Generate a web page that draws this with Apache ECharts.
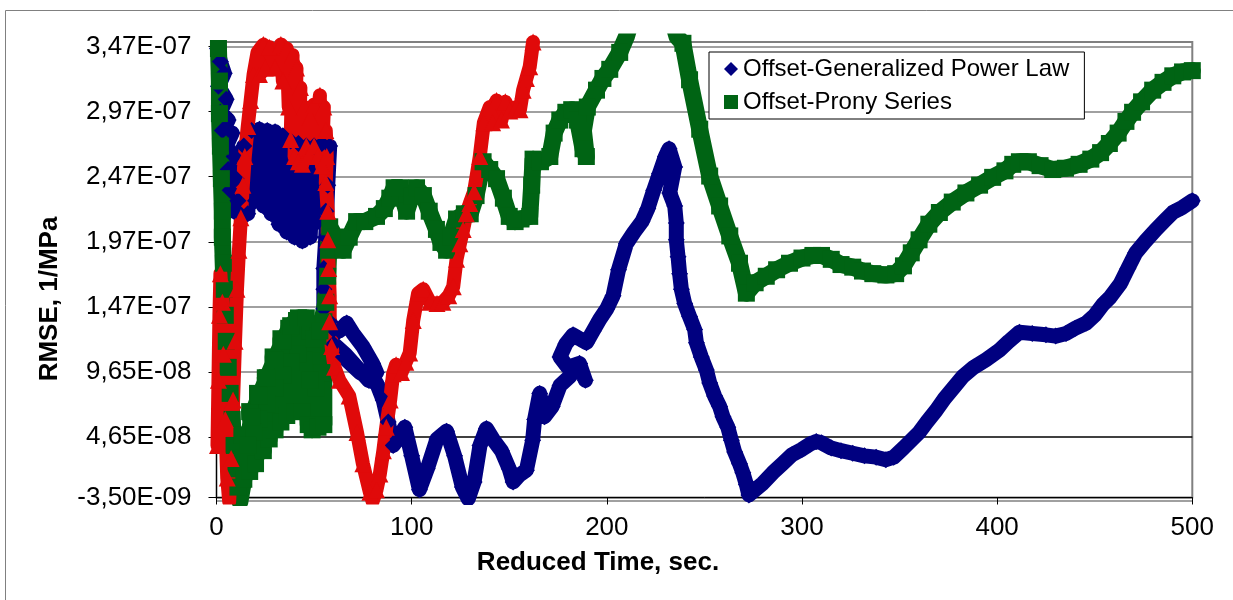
<!DOCTYPE html>
<html>
<head>
<meta charset="utf-8">
<script src="https://cdn.jsdelivr.net/npm/echarts@6/dist/echarts.min.js"></script>
<style>
  html, body { margin: 0; padding: 0; background: #ffffff; }
  #chart { width: 1233px; height: 600px; }
</style>
</head>
<body>
<div id="chart"></div>
<script>
// ---- DATA (y values in units of 1e-9 1/MPa) ----
const NANO = 1e-9;
const xTickValues = [0, 100, 200, 300, 400, 500];
const yTickValues = [0, 4.65e-8, 9.65e-8, 1.465e-7, 1.965e-7, 2.465e-7, 2.965e-7, 3.465e-7];
const yTickLabels = ['-3,50E-09', '4,65E-08', '9,65E-08', '1,47E-07', '1,97E-07', '2,47E-07', '2,97E-07', '3,47E-07'];
const xTitle = 'Reduced Time, sec.';
const yTitle = 'RMSE, 1/MPa';
const seriesNames = ['Offset-Generalized Power Law', 'Offset-Prony Series', 'Series3'];

const gplNano = [
  [0.5,345],[2,335],[4,326],[1,316],[5,306],[2,296],[6,290],[3,282],[8,280],[5,270],[9,262],[6,252],[10,245],[7,236],[11,228],[9,220],[12,218],
  [14,270],[16,218],[18,282],[20,228],[22,283],[24,224],[26,282],[28,218],[30,281],[32,210],[34,278],[36,204],[38,274],[40,200],[42,272],[44,197],[46,270],[48,200],[50,270],[52,212],[54,272],[56,220],[58,270],[57,240],
  [56,200],[55,176],[55,160],[55,145],[58,135],[60,129],[63,128],[66.7,134],[70,126],[75,116],[80,103],[82,96],
  [78,92],[73.5,96],[65,108],[60,118],[66,110],[72,100],[78,90],[82,88],[85.4,75],[88,58],[90.5,40],[93,45],[96.5,54],[100,32],[104,6],[108,22],[113,45],[117.9,51],[122,32],[126,8],[129,-1],[132,12],[135,40],[138.3,53],[142,44],[146,36],[150,22],[152,12],[155,17],[158.8,21],[162,44],[163,60],[165.6,80],[168,62],[172,70],[176,86],[181,93],[186,103],[189,90],[186,103],[180,100],[176,108],[179,118],[182.7,125],[186,122],[189.6,119],[193,128],[196.4,137],[200,145],[203.2,155],[206,175],[210,195],[214,204],[218,212],[221,222],[224,236],[227,249],[230,262],[231.9,268],
  [234.8,254],[232.2,234],[234.8,224],[235.6,211],[235.6,198],[236.5,185],[237.3,172],[238.2,160],[239.9,149],[242.4,139],[245,129],[245.9,119],[248.4,108],[251,98],[252.7,88],[255.2,78],[257.8,70],[259.5,62],[262,54],[263.8,44],[265.5,35],[268,26],[269.7,19],[271.5,10],[272.8,2],
  [276,6],[280,11],[285,19],[290,26],[295,33],[300,37],[304,41],[307.3,43],[310,42],[315,38],[320,36],[326,34],[332,32],[338,31],[343,29],[347,31],[352,38],[356,44],[360,50],[364,58],[368.8,67],[373,76],[378,85],[382.4,93],[388,100],[394.4,106],[401,113],[406,120],[411.4,127],[418,126],[425,125],[430,124],[435.3,126],[440,130],[445.6,134],[450,140],[454,148],[458,154],[463,164],[467,176],[471,188],[476,197],[481.4,206],[486,213],[490,219],[495,223],[500,228]
];

const pronyNano = [
  [1,345],[1.5,320],[1.5,295],[2,270],[2.5,245],[3,220],[3,200],[3.5,180],[4,160],[4.5,140],[5,120],[6,100],[7,80],[8,60],[9,40],[10,22],[11,8],[12,-3],
  [14,14],[13,30],[17,20],[13,48],[20,26],[17,66],[24,36],[21,80],[27,45],[25,92],[30,52],[29,108],[33,58],[33,122],[36,63],[37,130],[40,66],[41,136],[44,66],[45,136],[47,56],[48,128],[49,52],[50,118],[52,54],[52,124],[55,56],[55,135],
  [54,96],[51,84],[48,90],[45,106],[42,110],[38,104],[34,94],[30,84],[26,72],[22,60],[19,50],[16,40],
  [18,62],[22,78],[26,92],[30,106],[34,120],[38,132],[42,138],[46,138],[50,122],[53,128],[56,150],[57,170],[57.5,190],[58,208],
  [61,200],[64.9,190],[68,200],[71.8,212],[76,212],[82,216],[86,222],[88.8,230],[91,238],[94,238],[97.4,220],[100,232],[102.5,238],[106,232],[109,220],[112.7,206],[115,196],[117.9,190],[120,200],[123,214],[127,218],[130,218],[133,232],[136.6,258],[140,252],[143.5,245],[147,230],[150,216],[153,212],[156,214],[160.5,216],[161.5,240],[162.2,260],[166,258],[170.8,262],[173,280],[175.9,290],[179,296],[182,298],[185,290],[187.8,268],[189.5,262],[188,282],[190,300],[194.7,313],[198,322],[201.5,329],[206.6,342],[210,354],[223,420],[236,354],
  [239,349],[242.4,321],[247.6,283],[252.7,247],[257.8,224],[263,201],[268,180],[271.5,157],[276,165],[281.7,170],[287,175],[293.6,180],[300,184],[305.6,186],[310,186],[315,183],[320,179],[326,177],[331,174],[336.3,172],[343,171],[348,172],[352,178],[356,188],[360,198],[365,210],[370.4,219],[377,227],[384,234],[391,240],[397.7,246],[404,251],[408,256],[411.4,258],[416,258],[422,255],[428.5,252],[435,253],[442,256],[448,260],[453,265],[457.5,272],[462,280],[466,289],[469.4,296],[474,304],[479.7,313],[485,319],[490,324],[495,327],[500,328]
];

const series3Nano = [
  [0.5,40],[1,90],[1.5,140],[2,172],[3,150],[3.5,110],[4.5,60],[5.5,15],[6.5,-3],[7.5,30],[8.5,75],[9.5,120],[10.5,160],[11.5,190],[12.5,215],[13.5,240],[14.5,262],[16,285],[17.5,305],[19,325],[21,342],[24,348],[22,325],[25,330],[27,346],[30,330],[33,348],[34,320],[36,345],[37,300],[39,340],[38,275],[41,330],[40,262],[43,315],[42,258],[45,300],[44,256],[46,270],[48,292],[47,262],[50,302],[50,270],[53,309],[52,262],[55,300],[54,255],[56,282],[56.5,262],[56,242],[57,220],[57,198],[57.5,176],[58,155],[58,135],[59,116],[60.5,100],[63,90],[68,78],[72,50],[75,26],[78.6,4],[80,-3],[82,6],[83.7,18],[85.5,36],[87,54],[89,75],[90.5,95],[92,102],[94.8,96],[97,104],[99,111],[100.8,136],[103.3,157],[105.9,160],[109.3,150],[113,149],[116,150],[119,155],[121.3,162],[123,183],[124.7,195],[126.4,206],[128,218],[129.8,226],[132,235],[134.9,262],[137,288],[140,300],[141.5,288],[143.5,305],[146,290],[148,304],[150.3,297],[153.7,300],[155.5,298],[157.1,313],[158.8,322],[160.5,331],[162.2,350]
];

// ---- CHART ----
const FONT = '"Liberation Sans", Arial, Helvetica, sans-serif';
const toReal = arr => arr.map(p => [p[0], p[1] * NANO]);

const chart = echarts.init(document.getElementById('chart'), null, { renderer: 'canvas' });

function lineSeries(name, data, color, symbol, symbolSize, width) {
  return {
    name: name,
    type: 'line',
    data: toReal(data),
    symbol: symbol,
    symbolSize: symbolSize,
    showSymbol: true,
    showAllSymbol: true,
    clip: true,
    itemStyle: { color: color, borderWidth: 0 },
    lineStyle: { color: color, width: width, cap: 'round', join: 'round' },
    emphasis: { disabled: true },
    animation: false
  };
}

const option = {
  animation: false,
  backgroundColor: '#ffffff',
  grid: {
    left: 216.5, right: 40.7, top: 42, bottom: 102.5,
    containLabel: false,
    outerBoundsMode: 'none',
    show: true,
    borderColor: '#808080',
    borderWidth: 2,
    backgroundColor: 'transparent'
  },
  legend: {
    show: true,
    data: [
      { name: seriesNames[0], icon: 'diamond' },
      { name: seriesNames[1], icon: 'rect' }
    ],
    orient: 'vertical',
    left: 709,
    top: 52,
    padding: [5, 15, 5, 15],
    itemGap: 9,
    itemWidth: 14,
    itemHeight: 14,
    backgroundColor: '#ffffff',
    borderColor: '#000000',
    borderWidth: 1,
    borderRadius: 0,
    selectedMode: false,
    textStyle: { fontFamily: FONT, fontSize: 24, color: '#000000' }
  },
  xAxis: {
    type: 'value',
    min: 0,
    max: 500,
    interval: 100,
    axisLine: { show: true, onZero: false, lineStyle: { color: '#000000', width: 1 } },
    axisTick: { show: true, inside: false, length: 7, lineStyle: { color: '#000000' } },
    splitLine: { show: false },
    axisLabel: { margin: 17, fontFamily: FONT, fontSize: 26, color: '#000000' }
  },
  yAxis: {
    type: 'value',
    min: 0,
    max: 3.5e-7,
    axisLine: { show: true, onZero: false, lineStyle: { color: '#000000', width: 1 } },
    axisTick: { show: true, inside: false, length: 8, customValues: yTickValues, lineStyle: { color: '#000000' } },
    splitLine: {
      show: true,
      showMinLine: true,
      showMaxLine: true,
      lineStyle: { color: ['#808080', '#000000', '#808080', '#808080', '#808080', '#808080', '#808080', '#808080'], width: 1.5 }
    },
    axisLabel: {
      customValues: yTickValues,
      margin: 25,
      fontFamily: FONT,
      fontSize: 26,
      color: '#000000',
      showMinLabel: true,
      showMaxLabel: true,
      formatter: function (v) {
        const i = yTickValues.findIndex(t => Math.abs(t - v) < 1e-12);
        return i >= 0 ? yTickLabels[i] : '';
      }
    }
  },
  graphic: [
    {
      type: 'rect',
      silent: true,
      shape: { x: 5.5, y: 10.5, width: 1300, height: 700 },
      style: { fill: 'none', stroke: '#808080', lineWidth: 1 }
    },
    {
      type: 'line',
      silent: true,
      z: 0,
      shape: { x1: 216, y1: 501, x2: 1193, y2: 501 },
      style: { stroke: '#a0a0a0', lineWidth: 2 }
    },
    {
      type: 'text',
      silent: true,
      x: 598, y: 563,
      style: {
        text: xTitle, fontFamily: FONT, fontSize: 26, fontWeight: 'bold',
        fill: '#000000', align: 'center', verticalAlign: 'middle'
      }
    },
    {
      type: 'text',
      silent: true,
      x: 50, y: 299,
      rotation: Math.PI / 2,
      style: {
        text: yTitle, fontFamily: FONT, fontSize: 26, fontWeight: 'bold',
        fill: '#000000', align: 'center', verticalAlign: 'middle'
      }
    }
  ],
  series: [
    lineSeries(seriesNames[0], gplNano, '#000080', 'diamond', 17, 15),
    lineSeries(seriesNames[1], pronyNano, '#006414', 'rect', 17, 17),
    lineSeries(seriesNames[2], series3Nano, '#E00A0A', 'triangle', 17, 14)
  ]
};

chart.setOption(option);
</script>
</body>
</html>
